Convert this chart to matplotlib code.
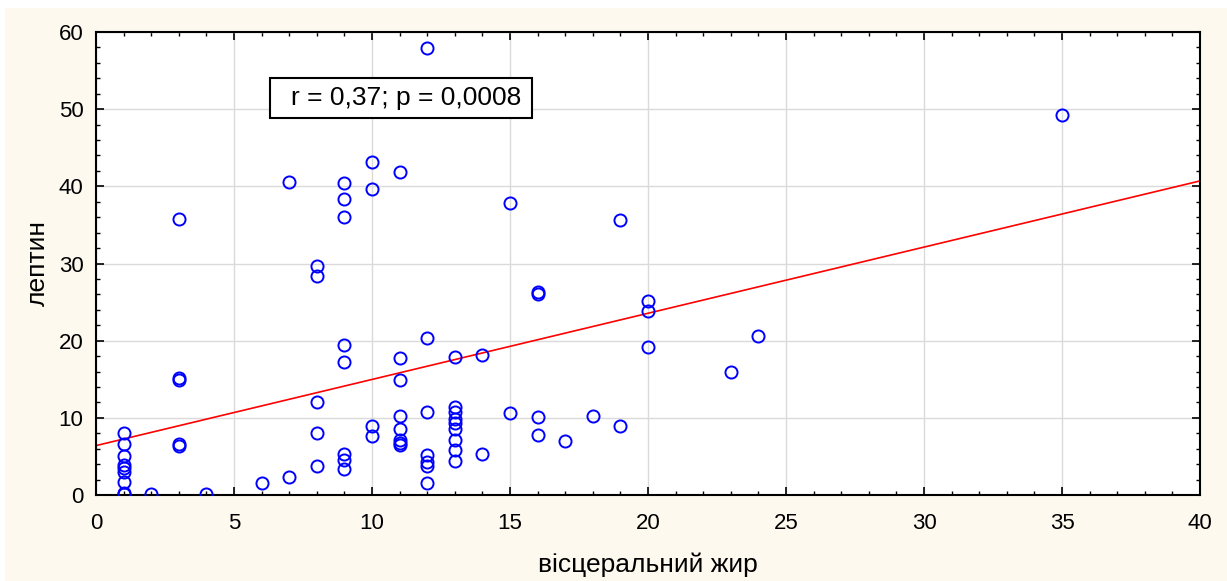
import matplotlib.pyplot as plt
from matplotlib.patches import Rectangle
from matplotlib.ticker import MultipleLocator

plt.rcParams['font.family'] = ['Liberation Sans', 'DejaVu Sans']

# visceral fat (x) and leptin (y)
fat = [1, 1, 1, 1, 1, 1, 1, 1, 1,
       2,
       3, 3, 3, 3, 3,
       4, 6, 7, 7,
       8, 8, 8, 8, 8,
       9, 9, 9, 9, 9, 9, 9, 9,
       10, 10, 10, 10,
       11, 11, 11, 11, 11, 11, 11, 11,
       12, 12, 12, 12, 12, 12, 12,
       13, 13, 13, 13, 13, 13, 13, 13, 13,
       14, 14, 15, 15,
       16, 16, 16, 16,
       17, 18, 19, 19,
       20, 20, 20, 23, 24, 35]
leptin = [8.0, 6.6, 5.1, 3.9, 3.5, 3.0, 1.7, 0.3, 0.1,
          0.1,
          35.8, 15.1, 14.9, 6.6, 6.3,
          0.1, 1.5, 2.3, 40.5,
          29.7, 28.4, 12.0, 8.0, 3.7,
          40.4, 38.4, 36.0, 19.5, 17.3, 5.3, 4.5, 3.4,
          43.2, 39.7, 8.9, 7.6,
          41.9, 17.7, 14.9, 10.3, 8.6, 7.1, 6.8, 6.5,
          57.9, 20.4, 10.8, 5.2, 4.3, 3.7, 1.5,
          17.9, 11.4, 10.7, 9.8, 9.3, 8.6, 7.1, 5.8, 4.4,
          18.2, 5.3, 37.9, 10.6,
          26.3, 26.1, 10.1, 7.8,
          7.0, 10.2, 35.6, 8.9,
          25.1, 23.9, 19.2, 15.9, 20.6, 49.3]

# regression line as drawn in the picture (value at x=0 and at x=40)
fit_x = [0, 40]
fit_y = [6.4, 40.7]
stat_text = "r = 0,37; p = 0,0008"

fig = plt.figure(figsize=(12.27, 5.81), dpi=100, facecolor='white')
fig.patches.append(Rectangle((5 / 1227, 0), 1, 1 - 8 / 581, transform=fig.transFigure,
                             facecolor='#fdf9ef', edgecolor='none', zorder=-10))
ax = fig.add_axes([96 / 1227, 86 / 581, 1104 / 1227, 463 / 581])
ax.set_facecolor('white')

ax.plot(fat, leptin, 'o', mfc='none', mec='#0000ff', ms=8.7, mew=1.4, zorder=3)
ax.plot(fit_x, fit_y, color='#ff0000', lw=1.2, zorder=2)

ax.set_xlim(0, 40)
ax.set_ylim(0, 60)
ax.xaxis.set_major_locator(MultipleLocator(5))
ax.xaxis.set_minor_locator(MultipleLocator(1))
ax.yaxis.set_major_locator(MultipleLocator(10))
ax.yaxis.set_minor_locator(MultipleLocator(2))
ax.tick_params(which='both', direction='in', top=True, right=True, labelsize=16, color='black')
ax.tick_params(which='major', length=6, width=1.2)
ax.tick_params(which='minor', length=3, width=1)
ax.tick_params(axis='x', which='major', pad=13)
ax.tick_params(axis='y', which='major', pad=9)
ax.grid(True, which='major', color='#dadada', lw=1)
ax.set_axisbelow(True)
for s in ax.spines.values():
    s.set_linewidth(1.5)

ax.set_xlabel("вісцеральний жир", fontsize=19, labelpad=13)
ax.set_ylabel("лептин", fontsize=19, labelpad=6)

# statistics box
ax.add_patch(Rectangle((6.3, 48.85), 9.5, 5.15, facecolor='white', edgecolor='black',
                       lw=1.5, zorder=4))
ax.text(7.05, 51.4, stat_text, fontsize=19, ha='left', va='center', zorder=5)

fig.savefig('out.png', dpi=100)
